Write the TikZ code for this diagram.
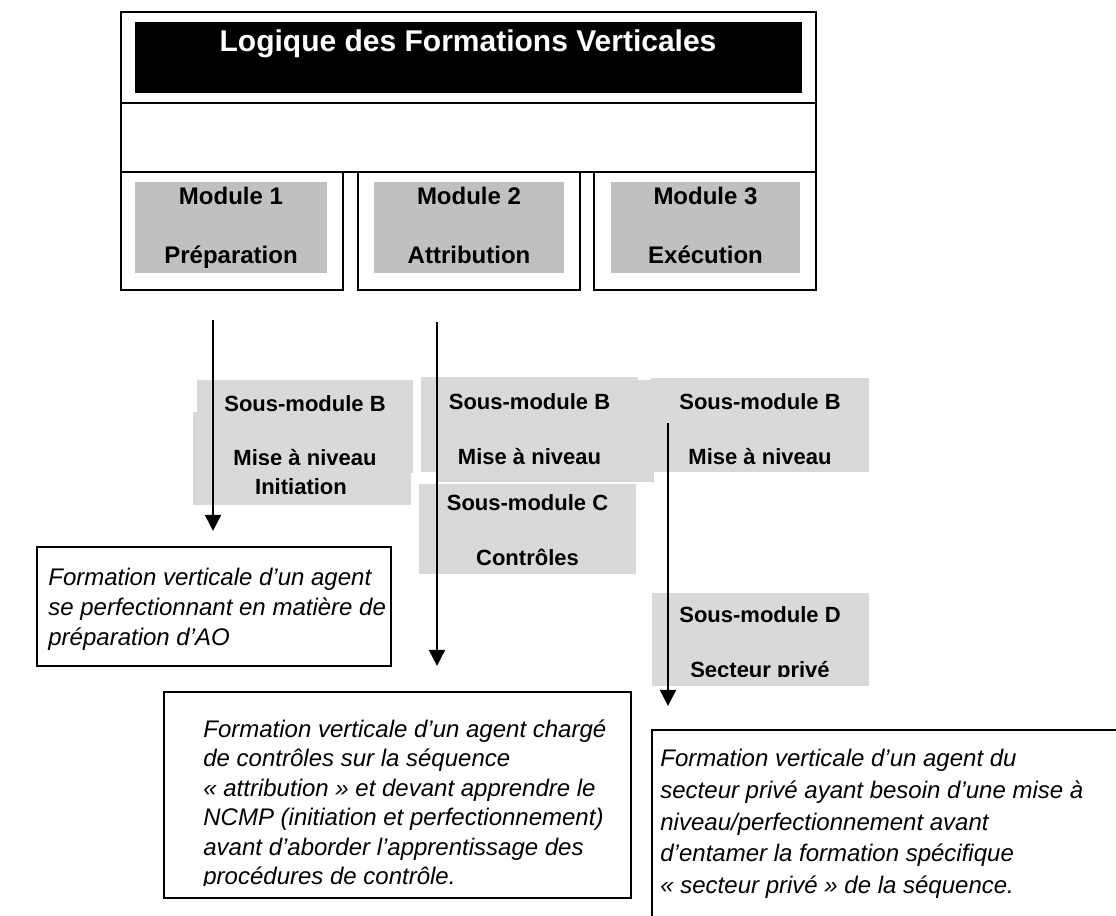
\documentclass[tikz,border=0pt]{standalone}
\usepackage{fontspec}
\setmainfont{Liberation Sans}
\usetikzlibrary{arrows.meta,fit}
\definecolor{modgrey}{HTML}{C0C0C0}
\definecolor{subgrey}{HTML}{D9D9D9}

\begin{document}
\begin{tikzpicture}[x=0.5pt, y=-0.5pt, >={Triangle[width=8pt,length=8pt]},
                    boxframe/.style={draw=black, line width=1.1pt, inner sep=0pt},
                    modfill/.style={fill=modgrey, inner sep=0pt},
                    subfill/.style={fill=subgrey, inner sep=0pt},
                    modtext/.style={inner sep=0pt, align=center,
                                    font=\bfseries\fontsize{12}{29.5}\selectfont},
                    subtext/.style={inner sep=0pt, align=center,
                                    font=\bfseries\fontsize{11}{27.5}\selectfont},
                    desctext/.style={inner sep=0pt, anchor=north west, align=left},
                    flow/.style={->, line width=0.9pt}]

  %% page frame (pixel grid of the reference)
  \useasboundingbox (0,0) rectangle (1116,916);
  \clip (0,0) rectangle (1116,916);

  %% title block
  \node[boxframe, fit={(121,12) (816,103)}] (titlerow) {};
  \node[boxframe, fit={(121,103) (816,172)}] (blankrow) {};
  \node[fill=black, inner sep=0pt, fit={(135,22) (802,93)}] (titlebar) {};
  \node[text=white, inner sep=0pt, font=\bfseries\fontsize{15}{18}\selectfont]
    (titletext) at (468,44) {Logique des Formations Verticales};

  %% the three modules
  \node[boxframe, fit={(121,172) (343,290)}] (modbox1) {};
  \node[boxframe, fit={(358,172) (580,290)}] (modbox2) {};
  \node[boxframe, fit={(594,172) (816,290)}] (modbox3) {};
  \node[modfill, fit={(135,182) (327,273)}] (mod1) {};
  \node[modfill, fit={(374,182) (564,273)}] (mod2) {};
  \node[modfill, fit={(611,182) (800,273)}] (mod3) {};
  \node[modtext] (mod1text) at (mod1) {Module 1\\Préparation};
  \node[modtext, yshift=1pt] (mod2text) at (mod2) {Module 2\\Attribution};
  \node[modtext, yshift=1pt] (mod3text) at (mod3) {Module 3\\Exécution};

  %% sous-modules sous le module 1
  \node[subfill, fit={(193,412) (411,505)}] (subinit) {};
  \node[subfill, fit={(197,380) (413,473)}] (subprep) {};
  \begin{scope}
    \clip (197,380) rectangle (413,464);
    \node[subtext, font=\bfseries\fontsize{11}{27}\selectfont, yshift=-2pt]
      (subpreptext) at (subprep) {Sous-module B\\Mise à niveau};
  \end{scope}
  \node[subtext] (subinittext) at (301,487) {Initiation};

  %% sous-modules sous le module 2
  \node[subfill, fit={(436,380) (654,482)}] (subattrback) {};
  \node[subfill, fit={(421,377) (638,472)}] (subattr) {};
  \node[subfill, fit={(419,484) (636,574)}] (subctrl) {};
  \node[subtext, yshift=-2.5pt] (subattrtext) at (subattr) {Sous-module B\\Mise à niveau};
  \node[subtext, yshift=-0.5pt] (subctrltext) at (subctrl) {Sous-module C\\Contrôles};

  %% sous-modules sous le module 3
  \node[subfill, fit={(651,378) (869,472)}] (subexec) {};
  \node[subtext, yshift=-2pt] (subexectext) at (subexec) {Sous-module B\\Mise à niveau};
  \node[subfill, fit={(652,593) (869,686)}] (subpriv) {};
  \begin{scope}
    \clip (652,593) rectangle (869,676);
    \node[subtext, anchor=north] (subprivtext) at (760,606.5) {Sous-module D\\Secteur privé};
  \end{scope}

  %% profils de formation verticale
  \node[boxframe, fit={(37,547) (391,666)}] (descprep) {};
  \node[desctext, font=\itshape\fontsize{12}{15}\selectfont]
    (descpreptext) at (48,568)
    {Formation verticale d’un agent\\
     se perfectionnant en matière de\\
     préparation d’AO};

  \node[boxframe, fit={(164,692) (631,898)}] (descattr) {};
  \begin{scope}
    \clip (164,692) rectangle (631,885);
    \node[desctext, font=\itshape\fontsize{12}{14.75}\selectfont]
      (descattrtext) at (203,719)
      {Formation verticale d’un agent chargé\\
       de contrôles sur la séquence\\
       «~attribution~» et devant apprendre le\\
       NCMP (initiation et perfectionnement)\\
       avant d’aborder l’apprentissage des\\
       procédures de contrôle.};
  \end{scope}

  \node[boxframe, fit={(652,730) (1140,960)}] (descexec) {};
  \node[desctext, font=\itshape\fontsize{12}{15.85}\selectfont]
    (descexectext) at (660,749)
    {Formation verticale d’un agent du\\
     secteur privé ayant besoin d’une mise à\\
     niveau/perfectionnement avant\\
     d’entamer la formation spécifique\\
     «~secteur privé~» de la séquence.};

  %% flèches des parcours
  \coordinate (prepstart) at (213,320);
  \coordinate (attrstart) at (437,322);
  \coordinate (execstart) at (668,423);
  \draw[flow, shorten >=7.5pt] (prepstart) -- (prepstart |- descprep.north);
  \draw[flow, shorten >=12.5pt] (attrstart) -- (attrstart |- descattr.north);
  \draw[flow, shorten >=11.5pt] (execstart) -- (execstart |- descexec.north);

\end{tikzpicture}
\end{document}
